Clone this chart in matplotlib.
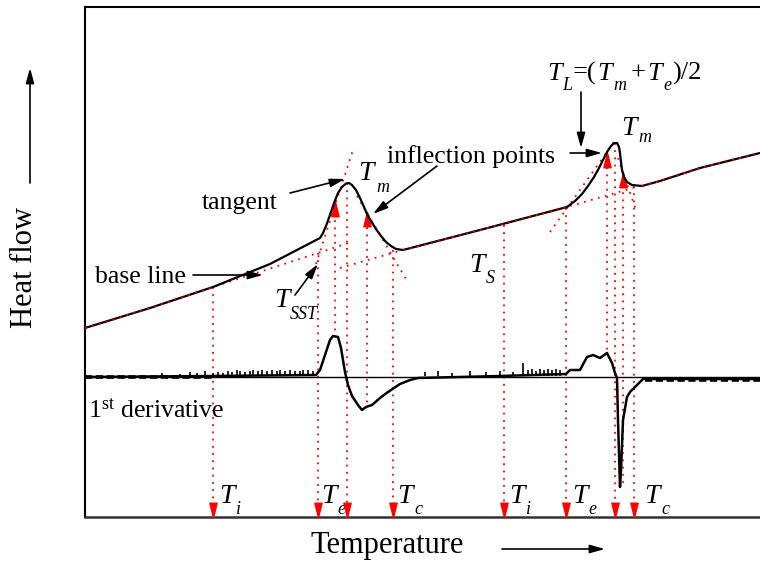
import matplotlib
matplotlib.use("Agg")
import matplotlib.pyplot as plt
from matplotlib.path import Path

plt.rcParams["font.family"] = ["Liberation Serif", "DejaVu Serif"]
plt.rcParams["mathtext.fontset"] = "custom"
plt.rcParams["mathtext.rm"] = "Liberation Serif"
plt.rcParams["mathtext.it"] = "Liberation Serif:italic"

# schematic DSC trace (x = temperature, y = heat flow, pixel-like units)
curve_x = [85, 150, 213, 270, 320, 323, 326, 330, 334, 338, 342, 346, 349, 352, 356, 360, 364,
           367, 371, 376, 381, 386, 391, 396, 403, 480, 567, 575, 582, 588, 594, 599, 603, 607,
           611, 614, 617, 619, 620, 621, 622, 624, 627, 632, 642, 660, 700, 760]
curve_y = [328, 308, 287, 264, 238, 233, 226, 215, 203, 193, 187, 183.5, 183, 185, 190, 198, 207,
           214, 221, 229, 236, 242, 246, 249, 250, 230, 207, 201, 194, 186, 177, 168, 160, 152,
           146, 143, 143, 147, 153, 162, 170, 177, 182, 185, 186, 181, 168, 153]

# 1st derivative
deriv_x = [85, 213, 316, 320, 326, 330, 333, 338, 341, 345, 348, 352, 358, 362, 366, 372, 380,
           388, 394, 400, 410, 418, 500, 566, 570, 580, 587, 593, 600, 607, 612, 615, 617, 618,
           620, 621, 623, 627, 630, 635, 640, 643, 760]
deriv_y = [377, 376, 375, 370, 352, 340, 336, 337, 348, 372, 385, 396, 405, 410, 407, 405, 398,
           392, 388, 384, 380, 378, 376, 374, 370, 370, 357, 355, 358, 353, 363, 373, 378, 420,
           487, 470, 420, 397, 392, 387, 382, 379, 379]
noise_x = [162, 180, 190, 197, 205, 213, 218, 223, 228, 232, 237, 240, 245, 250, 253, 258, 262,
           267, 272, 277, 280, 285, 290, 295, 300, 303, 308, 313,
           425, 438, 452, 470, 486, 500, 513, 523, 528, 532, 536, 540, 544, 548, 552, 556, 560]
noise_h = [3, 2, 4, 3, 5, 3, 4, 3, 5, 4, 6, 5, 4, 5, 6, 5, 6, 5, 6, 5, 6, 5, 6, 5, 5, 6, 6, 5,
           4, 5, 3, 5, 4, 5, 4, 13, 6, 7, 5, 7, 6, 7, 6, 7, 6]

# construction lines (baselines / tangents)
base1_x, base1_y = [85, 150, 213, 318, 352], [328, 308, 287, 253, 242]
base2_x, base2_y = [340, 403, 480, 567, 643], [268, 250, 230, 207, 185]
base3_x, base3_y = [642, 660, 700, 760], [186, 181, 168, 153]
tang_lines = [((316, 353), (264, 150)), ((357, 406), (196, 279)),
              ((550, 617), (232, 138)), ((618, 636), (158, 210))]

v_x = [213, 318, 335, 347, 367, 393, 504, 566, 607, 615, 623, 634]
v_top = [287, 253, 213, 183, 220, 250, 225, 208, 160, 143, 185, 186]
v_bot = [517, 517, 336, 517, 407, 517, 517, 517, 353, 517, 487, 517]
infl_x, infl_y = [335, 367, 607, 623], [209, 219, 160, 180]

# T labels: (x, baseline of T, subscript, x of subscript, baseline of subscript)
t_labels = [(358, 180, "m", 376, 192), (621, 135, "m", 638, 142), (274, 307, "SST", 290, 319),
            (469, 272, "S", 486, 283), (219, 503, "i", 236, 514), (321, 503, "e", 337, 514),
            (397, 503, "c", 414, 514), (509, 503, "i", 526, 514), (572, 503, "e", 588, 514),
            (644, 503, "c", 661, 514)]

# pieces of T_L = (T_m + T_e)/2 : (x, baseline, text, is subscript)
tl_pieces = [(547, 80, "T", False), (562, 90, "L", True), (573, 80, "=(", None),
             (597, 80, "T", False), (613, 90, "m", True), (631, 80, "+", None),
             (647, 80, "T", False), (663, 90, "e", True), (672, 80, ")/2", None)]

W, H = 760, 563
fig = plt.figure(figsize=(7.6, 5.63), dpi=100)
ax = fig.add_axes([85 / W, (H - 517) / H, (W - 85) / W, (517 - 7) / H])
ax.set_xlim(85, 760)
ax.set_ylim(517, 7)
ax.set_xticks([]); ax.set_yticks([])
ax.spines["right"].set_visible(False)
ax.spines["top"].set_linewidth(1.5)
ax.spines["left"].set_linewidth(1.5)
ax.spines["bottom"].set_linewidth(1.8)
ax.spines["bottom"].set_color("#333333")

red = "#ff0000"
dot = (0, (1, 3))
for xs, ys in [(base1_x, base1_y), (base2_x, base2_y), (base3_x, base3_y)] + tang_lines:
    ax.plot(xs, ys, color=red, ls=dot, lw=1.3, zorder=3)
for x, t, b in zip(v_x, v_top, v_bot):
    ax.plot([x, x], [t, b - (8 if b == 517 else 0)], color=red, ls=dot, lw=1.3, zorder=3)

tri_down = Path([(-0.5, 1), (0.5, 1), (0, -1), (-0.5, 1)], closed=True)
tri_up = Path([(-0.5, -1), (0.5, -1), (0, 1), (-0.5, -1)], closed=True)
arr_x = [x for x, b in zip(v_x, v_bot) if b == 517]
ax.scatter(arr_x, [510] * len(arr_x), marker=tri_down, s=110, color=red, zorder=4, clip_on=False)
ax.scatter(infl_x, infl_y, marker=tri_up, s=110, color=red, zorder=2)

ax.plot(curve_x, curve_y, color="black", lw=1.6, zorder=5)
ax.plot(base1_x[:3], base1_y[:3], color=red, ls=dot, lw=1.3, zorder=6)
ax.plot(base2_x[1:4], base2_y[1:4], color=red, ls=dot, lw=1.3, zorder=6)
ax.plot(base3_x, base3_y, color=red, ls=dot, lw=1.3, zorder=6)

# derivative
ax.axhline(377, color="black", lw=1.0, zorder=4)
ax.plot(deriv_x, deriv_y, color="black", lw=1.8, zorder=5)
ax.plot([85, 213], [377, 377], color="black", lw=2.6, ls=(0, (2, 1)), zorder=5)
ax.plot([645, 760], [379.5, 379.5], color="black", lw=2.6, ls=(0, (2, 1)), zorder=5)
ax.vlines(noise_x, 376, [376 - h for h in noise_h], color="black", lw=1.2, zorder=5)

fs = 18.5
ap = dict(arrowstyle="-|>,head_length=0.9,head_width=0.25", color="black", lw=1.2,
          shrinkA=0, shrinkB=0)
for (x0, y0), (x1, y1) in [((193, 275), (263, 275)), ((290, 193), (345, 179)),
                           ((437, 166), (373, 214)), ((570, 153), (602, 153)),
                           ((581, 92), (581, 148)), ((295, 295), (318, 264))]:
    ax.annotate("", xy=(x1, y1), xytext=(x0, y0), arrowprops=ap, zorder=7)

ax.text(95, 277, "base line", fontsize=fs, va="center")
ax.text(202, 203, "tangent", fontsize=fs, va="center")
ax.text(387, 157, "inflection points", fontsize=fs, va="center")
ax.text(88, 418, r"1$^{\rm st}$ derivative", fontsize=fs, va="baseline")

tfs, sfs = 20, 13
for x, y, sub, sx, sy in t_labels:
    ax.text(x, y, "T", fontsize=tfs, style="italic", va="baseline")
    ax.text(sx, sy, sub, fontsize=sfs, style="italic", va="baseline")

for x, y, s, is_sub in tl_pieces:
    if is_sub is None:
        ax.text(x, y, s, fontsize=19, va="baseline")
    else:
        ax.text(x, y, s, fontsize=sfs if is_sub else 19, style="italic", va="baseline")

ax.text(24, 267, "Heat flow", fontsize=22, rotation=90, ha="center", va="center", clip_on=False)
ax.text(387, 553, "Temperature", fontsize=22, ha="center", va="baseline", clip_on=False)
ax.annotate("", xy=(30, 68), xytext=(30, 183), arrowprops=ap, annotation_clip=False)
ax.annotate("", xy=(605, 549), xytext=(502, 549), arrowprops=ap, annotation_clip=False)

fig.savefig("out.png", dpi=100)
